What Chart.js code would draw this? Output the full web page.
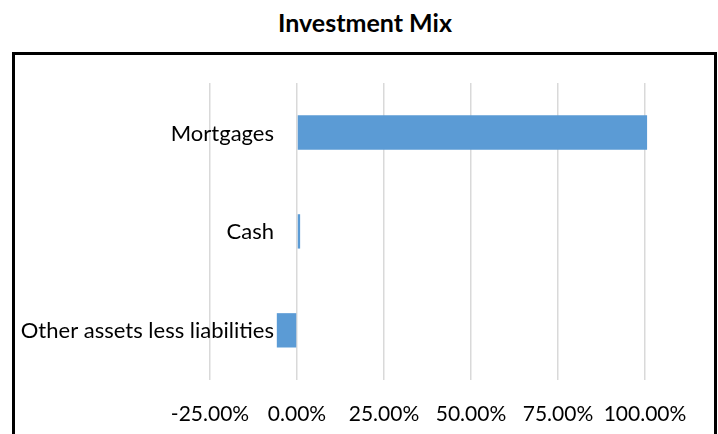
<!DOCTYPE html>
<html>
<head>
<meta charset="utf-8">
<script src="https://cdn.jsdelivr.net/npm/chart.js@4.4.1/dist/chart.umd.min.js"></script>
<style>
  html, body { margin: 0; padding: 0; background: #fff; }
  #wrap { position: relative; width: 718px; height: 434px; overflow: hidden; }
  #title {
    position: absolute; left: 0; top: 8px; width: 730px; text-align: center;
    font-family: Lato, sans-serif; font-weight: bold; font-size: 25px; line-height: 28px; color: #000;
  }
  #frame {
    position: absolute; left: 12px; top: 52px; width: 705px; height: 500px;
    box-sizing: border-box; border: 3px solid #000; pointer-events: none;
  }
  canvas { position: absolute; left: 0; top: 0; }
</style>
</head>
<body>
<div id="wrap">
  <div id="title">Investment Mix</div>
  <canvas id="mixChart" width="718" height="434"></canvas>
  <div id="frame"></div>
</div>
<script>
// chart data
const categories = ['Mortgages', 'Cash', 'Other assets less liabilities'];
const weights = [100.6, 0.9, -5.8];   // percent
const axisMin = -25;
const axisMax = 100;
const axisStep = 25;

const FONT = 'Lato, sans-serif';

// category labels sit left of the zero line, like Excel does
const categoryLabels = {
    id: 'categoryLabels',
    afterDatasetsDraw(chart) {
        const { ctx, scales } = chart;
        const zeroX = scales.x.getPixelForValue(0);
        ctx.save();
        ctx.font = '22px ' + FONT;
        ctx.fillStyle = '#000';
        ctx.textAlign = 'right';
        ctx.textBaseline = 'middle';
        categories.forEach((label, i) => {
            ctx.fillText(label, zeroX - 23, scales.y.getPixelForValue(i) + 1);
        });
        ctx.restore();
    }
};

new Chart(document.getElementById('mixChart'), {
    type: 'bar',
    data: {
        labels: categories,
        datasets: [{
            data: weights,
            backgroundColor: '#5b9bd5',
            borderWidth: 0,
            barPercentage: 0.347,
            categoryPercentage: 1,
            clip: false
        }]
    },
    options: {
        indexAxis: 'y',
        responsive: false,
        animation: false,
        layout: { padding: { left: 210, right: 73, top: 83, bottom: -15 } },
        plugins: {
            legend: { display: false },
            title: { display: false },
            tooltip: { enabled: false }
        },
        scales: {
            x: {
                min: axisMin,
                max: axisMax,
                border: { display: false },
                grid: { color: '#d9d9d9', lineWidth: 1.5, drawTicks: false },
                ticks: {
                    stepSize: axisStep,
                    padding: 22,
                    maxRotation: 0,
                    minRotation: 0,
                    autoSkip: false,
                    color: '#000',
                    font: { family: FONT, size: 21 },
                    callback: (v) => v.toFixed(2) + '%'
                }
            },
            y: { display: false }
        }
    },
    plugins: [categoryLabels]
});
</script>
</body>
</html>
